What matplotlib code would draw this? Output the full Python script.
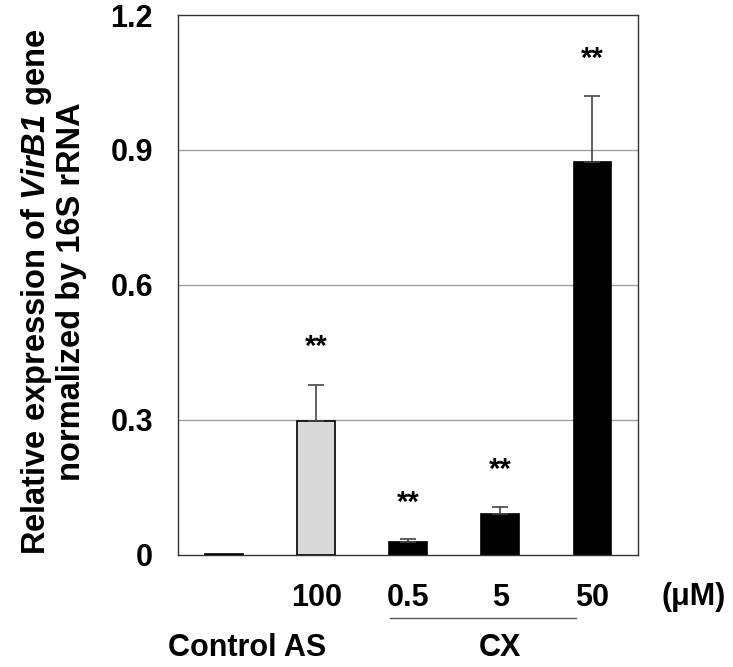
import numpy as np
import matplotlib.pyplot as plt
import matplotlib.transforms as mtransforms

plt.rcParams['font.family'] = ['Liberation Sans', 'DejaVu Sans']
plt.rcParams['font.weight'] = 'bold'
plt.rcParams['mathtext.fontset'] = 'custom'
plt.rcParams['mathtext.it'] = 'Liberation Sans:bold:italic'
plt.rcParams['mathtext.rm'] = 'Liberation Sans:bold:italic'

# Data
groups = ['Control', 'AS', 'CX', 'CX', 'CX']
doses = ['', '100', '0.5', '5', '50']
values = [0.003, 0.298, 0.028, 0.09, 0.873]
errors = [0.0, 0.08, 0.007, 0.017, 0.147]
colors = ['white', '#d9d9d9', 'black', 'black', 'black']
signif = ['', '**', '**', '**', '**']
star_y = [0, 0.471, 0.124, 0.198, 1.111]

x = np.arange(len(values))

fig = plt.figure(figsize=(7.33, 6.67), dpi=100)
ax = fig.add_axes([0.243, 0.168, 0.628, 0.8095])

# Grid
for g in [0.3, 0.6, 0.9]:
    ax.axhline(g, color='#a0a0a0', lw=1, zorder=0)

ax.bar(x, values, width=0.41, color=colors, edgecolor='black', linewidth=1.2, zorder=2)
ax.errorbar(x[1:], values[1:], yerr=[np.zeros(len(x) - 1), errors[1:]],
            fmt='none', ecolor='#444444', elinewidth=1.2, capsize=6, capthick=1.2, zorder=3)

# Significance stars (asterisk glyph sits high, so shift baseline down)
for xi, s, sy in zip(x, signif, star_y):
    if s:
        ax.annotate(s, (xi, sy), xytext=(0, -8.5), textcoords='offset points',
                    ha='center', va='baseline', fontsize=21, fontweight='bold')

ax.set_xlim(-0.5, 4.5)
ax.set_ylim(0, 1.2)
ax.set_yticks([0, 0.3, 0.6, 0.9, 1.2])
ax.set_yticklabels(['0', '0.3', '0.6', '0.9', '1.2'], fontsize=22, fontweight='bold')
ax.set_xticks(x)
ax.set_xticklabels(doses, fontsize=22, fontweight='bold')
ax.tick_params(axis='both', length=0)
ax.tick_params(axis='x', pad=20)
ax.tick_params(axis='y', pad=18)
for sp in ax.spines.values():
    sp.set_color('#333333')
    sp.set_linewidth(1)

# Lower annotations
trans = mtransforms.blended_transform_factory(ax.transData, ax.transAxes)
ax.text(5.10, -0.078, '(\u03bcM)', transform=trans, ha='center', va='center',
        fontsize=22, fontweight='bold', clip_on=False)
ax.plot([1.80, 3.82], [-0.117, -0.117], transform=trans, color='#555555', lw=1, clip_on=False)
ax.text(0.25, -0.172, 'Control AS', transform=trans, ha='center', va='center',
        fontsize=22, fontweight='bold', clip_on=False)
ax.text(3.0, -0.172, 'CX', transform=trans, ha='center', va='center',
        fontsize=22, fontweight='bold', clip_on=False)

# Y label (two lines)
fig.text(0.05, 0.562, r'Relative expression of $\mathit{VirB1}$ gene', rotation=90,
         ha='center', va='center', fontsize=23.5, fontweight='bold')
fig.text(0.097, 0.562, 'normalized by 16S rRNA', rotation=90,
         ha='center', va='center', fontsize=23.5, fontweight='bold')

fig.savefig('out.png', dpi=100)
